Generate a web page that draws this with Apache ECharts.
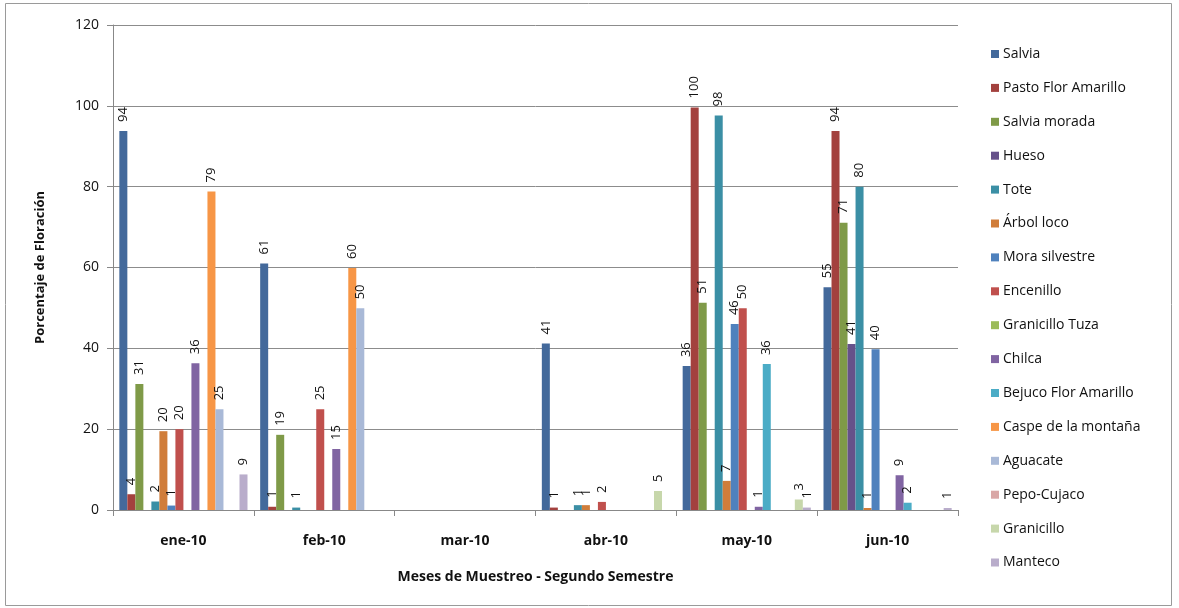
<!DOCTYPE html>
<html>
<head>
<meta charset="utf-8">
<script src="https://cdn.jsdelivr.net/npm/echarts@6/dist/echarts.min.js"></script>
<style>
html,body{margin:0;padding:0;background:#fff;}
#chart{width:1179px;height:608px;}
</style>
</head>
<body>
<div id="chart"></div>
<script>
const categories = ['ene-10', 'feb-10', 'mar-10', 'abr-10', 'may-10', 'jun-10'];
const yTicks = [0, 20, 40, 60, 80, 100, 120];

const seriesNames = ['Salvia', 'Pasto Flor Amarillo', 'Salvia morada', 'Hueso', 'Tote', 'Árbol loco',
  'Mora silvestre', 'Encenillo', 'Granicillo Tuza', 'Chilca', 'Bejuco Flor Amarillo',
  'Caspe de la montaña', 'Aguacate', 'Pepo-Cujaco', 'Granicillo', 'Manteco'];

const salvia            = [93.8, 61.0, null, 41.2, 35.6, 55.1];
const pastoFlorAmarillo = [3.9, 0.8, null, 0.6, 99.6, 93.8];
const salviaMorada      = [31.2, 18.6, null, null, 51.3, 71.1];
const hueso             = [null, null, null, null, null, 41.1];
const tote              = [2.1, 0.6, null, 1.2, 97.6, 80.0];
const arbolLoco         = [19.5, null, null, 1.2, 7.2, 0.5];
const moraSilvestre     = [1.1, null, null, null, 46.0, 39.8];
const encenillo         = [20.0, 24.9, null, 2.0, 49.9, null];
const granicilloTuza    = [null, null, null, null, null, null];
const chilca            = [36.3, 15.1, null, null, 0.8, 8.6];
const bejucoFlorAmarillo= [null, null, null, null, 36.1, 1.8];
const caspeDeLaMontana  = [78.8, 59.9, null, null, null, null];
const aguacate          = [24.9, 49.9, null, null, null, null];
const pepoCujaco        = [null, null, null, null, null, null];
const granicillo        = [null, null, null, 4.7, 2.6, null];
const manteco           = [8.8, null, null, null, 0.6, 0.5];

const seriesValues = [salvia, pastoFlorAmarillo, salviaMorada, hueso, tote, arbolLoco,
  moraSilvestre, encenillo, granicilloTuza, chilca, bejucoFlorAmarillo,
  caspeDeLaMontana, aguacate, pepoCujaco, granicillo, manteco];

const colors = ['#43699B', '#A3413E', '#7F9A48', '#66518A', '#3B8FA5', '#D07D3A',
  '#4F81BD', '#C0504D', '#9BBB59', '#8064A2', '#4BACC6', '#F79646',
  '#A9B9D7', '#D9A7A6', '#C7D7AB', '#B9ADCB'];

const FONT = '"Open Sans", "Noto Sans", sans-serif';

const chart = echarts.init(document.getElementById('chart'));
chart.setOption({
  animation: false,
  color: colors,
  textStyle: { fontFamily: FONT },
  graphic: [{
    type: 'rect', silent: true,
    shape: { x: 5.5, y: 3.5, width: 1166, height: 602 },
    style: { fill: 'none', stroke: '#9a9a9a', lineWidth: 1 }
  }],
  grid: { left: 113, right: 221, top: 25, bottom: 98 },
  legend: {
    orient: 'vertical', left: 986, top: 42,
    itemWidth: 8, itemHeight: 8, itemGap: 19.9,
    icon: 'rect',
    textStyle: { fontSize: 14, lineHeight: 14, color: '#111', fontFamily: FONT, padding: [0, 0, 0, -1] },
    data: seriesNames
  },
  xAxis: {
    type: 'category', data: categories,
    name: 'Meses de Muestreo - Segundo Semestre',
    nameLocation: 'middle', nameGap: 60,
    nameTextStyle: { fontSize: 14, fontWeight: 'bold', color: '#111', fontFamily: FONT },
    axisLine: { lineStyle: { color: '#888' } },
    axisTick: { show: true, length: 6, lineStyle: { color: '#888' } },
    axisLabel: { fontSize: 14, fontWeight: 'bold', color: '#111', margin: 24, fontFamily: FONT },
    splitLine: { show: false }
  },
  yAxis: {
    type: 'value', min: 0, max: 120, interval: 20,
    name: 'Porcentaje de Floración',
    nameLocation: 'middle', nameGap: 66, nameRotate: 90,
    nameTextStyle: { fontSize: 13, fontWeight: 'bold', color: '#111', fontFamily: FONT },
    axisLine: { show: true, lineStyle: { color: '#888' } },
    axisTick: { show: true, length: 6, inside: false, lineStyle: { color: '#888' } },
    axisLabel: { fontSize: 14, color: '#111', margin: 14, fontFamily: FONT,
      formatter: v => yTicks.includes(v) ? String(v) : '' },
    splitLine: { lineStyle: { color: '#8c8c8c', width: 1 } }
  },
  series: seriesNames.map((name, i) => ({
    name, type: 'bar',
    data: seriesValues[i],
    barGap: '0%', barCategoryGap: '9%',
    label: {
      show: true, position: 'top', rotate: 90, distance: 9,
      align: 'left', verticalAlign: 'middle',
      fontSize: 13, color: '#111', fontFamily: FONT,
      formatter: p => p.value == null ? '' : String(Math.round(p.value))
    }
  }))
});
</script>
</body>
</html>
